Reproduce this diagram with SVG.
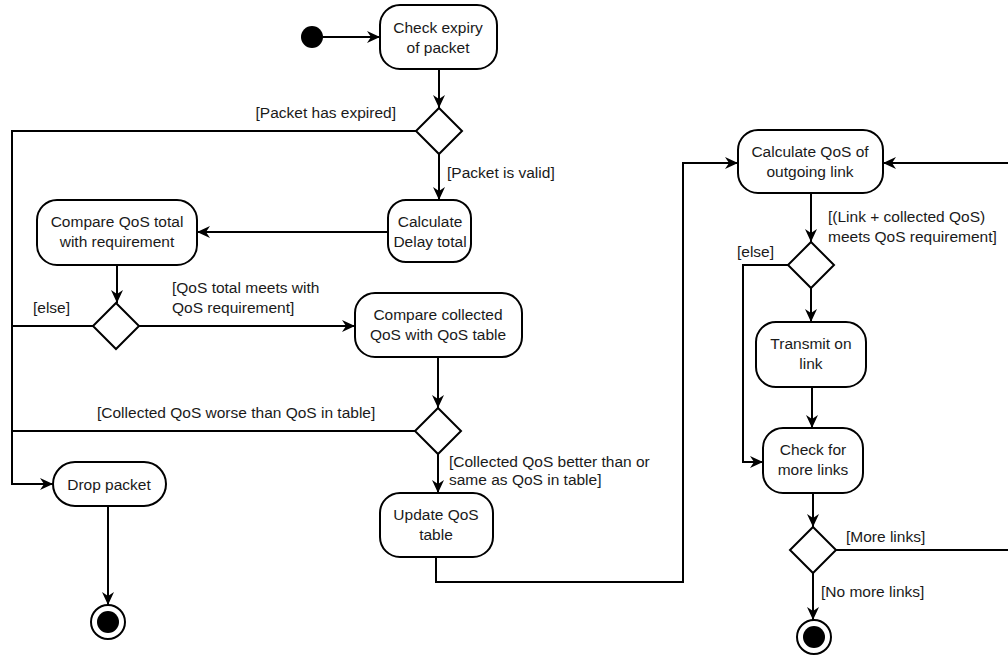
<svg xmlns="http://www.w3.org/2000/svg" width="1008" height="658" viewBox="0 0 1008 658">
<defs>
<marker id="arr" markerUnits="userSpaceOnUse" markerWidth="14" markerHeight="14" viewBox="0 0 14 14" refX="13" refY="7" orient="auto">
<path d="M0,1 L13,7 L0,13 L4,7 z" fill="#000"/>
</marker>
<style>
.box{fill:#fff;stroke:#000;stroke-width:2}
.dia{fill:#fff;stroke:#000;stroke-width:2}
.ln{fill:none;stroke:#000;stroke-width:2}
.ar{fill:none;stroke:#000;stroke-width:2;marker-end:url(#arr)}
text{font-family:"Liberation Sans",Arial,sans-serif;font-size:15.5px;fill:#1a1a1a}
.c{text-anchor:middle}
.e{text-anchor:end}
</style>
</defs>
<rect width="1008" height="658" fill="#fff"/>

<g id="connectors">
<path class="ar" d="M323,37 H380"/>
<path class="ar" d="M439,69 V108"/>
<path class="ar" d="M416,131 H12 V484 H53"/>
<path class="ar" d="M439,154 V200"/>
<path class="ar" d="M388,232 H197"/>
<path class="ar" d="M117,265 V303"/>
<path class="ln" d="M93,326 H12"/>
<path class="ar" d="M139,326 H355"/>
<path class="ar" d="M438,357 V408"/>
<path class="ln" d="M415,431 H12"/>
<path class="ar" d="M438,454 V493"/>
<path class="ar" d="M436,557 V582 H683 V163 H738"/>
<path class="ar" d="M811,193 V242"/>
<path class="ar" d="M788,265 H743 V462 H763"/>
<path class="ar" d="M811,288 V322"/>
<path class="ar" d="M812,387 V428"/>
<path class="ar" d="M813,493 V527"/>
<path class="ar" d="M836,550 H1012 V163 H883"/>
<path class="ar" d="M813,573 V620"/>
<path class="ar" d="M108,506 V605"/>
<text class="e" x="396" y="118">[Packet has expired]</text>
<text x="447" y="178">[Packet is valid]</text>
<text x="33" y="313">[else]</text>
<text x="172" y="293">[QoS total meets with</text>
<text x="172" y="313">QoS requirement]</text>
<text x="97" y="418">[Collected QoS worse than QoS in table]</text>
<text x="449" y="467">[Collected QoS better than or</text>
<text x="449" y="485">same as QoS in table]</text>
<text x="828" y="222">[(Link + collected QoS)</text>
<text x="828" y="242">meets QoS requirement]</text>
<text x="737" y="257">[else]</text>
<text x="846" y="542">[More links]</text>
<text x="821" y="597">[No more links]</text>
</g>

<g id="start"><circle cx="312" cy="37" r="11" fill="#000"/></g>
<g id="check-expiry"><rect class="box" x="380" y="5" width="117" height="64" rx="20"/><text class="c" x="438" y="33">Check expiry</text><text class="c" x="438" y="53">of packet</text></g>
<g id="d1"><polygon class="dia" points="439,108 462,131 439,154 416,131"/></g>
<g id="calc-delay"><rect class="box" x="388" y="200" width="83" height="62" rx="18"/><text class="c" x="430" y="227">Calculate</text><text class="c" x="430" y="247">Delay total</text></g>
<g id="compare-total"><rect class="box" x="37" y="200" width="160" height="65" rx="20"/><text class="c" x="117" y="227">Compare QoS total</text><text class="c" x="117" y="247">with requirement</text></g>
<g id="d2"><polygon class="dia" points="116,303 139,326 116,349 93,326"/></g>
<g id="compare-collected"><rect class="box" x="355" y="293" width="167" height="64" rx="20"/><text class="c" x="438" y="320">Compare collected</text><text class="c" x="438" y="340">QoS with QoS table</text></g>
<g id="d3"><polygon class="dia" points="438,408 461,431 438,454 415,431"/></g>
<g id="update-table"><rect class="box" x="380" y="493" width="113" height="64" rx="20"/><text class="c" x="436" y="520">Update QoS</text><text class="c" x="436" y="540">table</text></g>
<g id="drop"><rect class="box" x="53" y="462" width="113" height="44" rx="22"/><text class="c" x="109" y="490">Drop packet</text></g>
<g id="end1"><circle cx="108" cy="622" r="17" fill="#fff" stroke="#000" stroke-width="2"/><circle cx="108" cy="622" r="11" fill="#000"/></g>
<g id="calc-qos"><rect class="box" x="738" y="130" width="145" height="63" rx="20"/><text class="c" x="810" y="157">Calculate QoS of</text><text class="c" x="810" y="177">outgoing link</text></g>
<g id="d4"><polygon class="dia" points="811,242 834,265 811,288 788,265"/></g>
<g id="transmit"><rect class="box" x="756" y="322" width="110" height="65" rx="20"/><text class="c" x="811" y="349">Transmit on</text><text class="c" x="811" y="369">link</text></g>
<g id="check-more"><rect class="box" x="763" y="428" width="100" height="65" rx="20"/><text class="c" x="813" y="455">Check for</text><text class="c" x="813" y="475">more links</text></g>
<g id="d5"><polygon class="dia" points="813,527 836,550 813,573 790,550"/></g>
<g id="end2"><circle cx="814" cy="637" r="17" fill="#fff" stroke="#000" stroke-width="2"/><circle cx="814" cy="637" r="11" fill="#000"/></g>
</svg>
